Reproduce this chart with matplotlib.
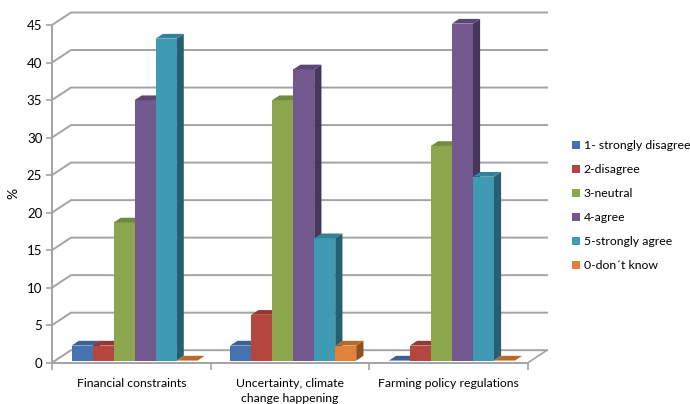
import matplotlib
matplotlib.use("Agg")
import matplotlib.pyplot as plt
from matplotlib.patches import Polygon, Patch

plt.rcParams['font.family'] = ['Lato', 'DejaVu Sans']

# ---- data -------------------------------------------------------------
categories = ["Financial constraints",
              "Uncertainty, climate\nchange happening",
              "Farming policy regulations"]
series_names = ["1- strongly disagree", "2-disagree", "3-neutral",
                "4-agree", "5-strongly agree", "0-don\u00b4t know"]
values = {
    "1- strongly disagree": [2.0, 2.0, 0.0],
    "2-disagree":           [2.0, 6.1, 2.0],
    "3-neutral":            [18.4, 34.7, 28.6],
    "4-agree":              [34.7, 38.8, 44.9],
    "5-strongly agree":     [42.9, 16.3, 24.5],
    "0-don\u00b4t know":    [0.0, 2.0, 0.0],
}
y_ticks = [0, 5, 10, 15, 20, 25, 30, 35, 40, 45]

# front / top / side shades for each series
front_col = ["#4673AF", "#B3473F", "#8BA64C", "#735890", "#3F9AB3", "#E0823A"]
top_col   = ["#3A6096", "#953832", "#728B3C", "#5C4675", "#33819A", "#B8692C"]
side_col  = ["#2C4C78", "#772C28", "#5A6E2E", "#46365C", "#266070", "#8E5020"]

# ---- figure -----------------------------------------------------------
W, H = 690, 404
fig = plt.figure(figsize=(W / 100, H / 100), dpi=100)
x0, x1, y0, y1 = 52, 528, 362.7, 25          # front plane in pixels
ax = fig.add_axes([x0 / W, (H - y0) / H, (x1 - x0) / W, (y0 - y1) / H])
ncat = len(categories)
ax.set_xlim(0, ncat)
ax.set_ylim(0, 45)

# depth of the floor expressed in data units
px_per_cat = (x1 - x0) / ncat
px_per_val = (y0 - y1) / 45
Dx = 19 / px_per_cat
Dy = 12.5 / px_per_val

grid_c = "#A3A3A3"
for v in y_ticks:
    ax.plot([0, Dx, ncat + Dx], [v, v + Dy, v + Dy], color=grid_c, lw=1.4,
            clip_on=False, zorder=1, solid_joinstyle="miter")
ax.plot([ncat, ncat + Dx], [0, Dy], color=grid_c, lw=1.2, clip_on=False, zorder=1)

# bars
nser = len(series_names)
w = 21 / px_per_cat
f0, f1 = 0.17, 0.55
bx, by = f0 * Dx, f0 * Dy
ddx, ddy = (f1 - f0) * Dx, (f1 - f0) * Dy
for ci in range(ncat):
    for si, name in enumerate(series_names):
        v = values[name][ci]
        xl = ci + (1 - nser * w) / 2 + si * w + bx
        xr = xl + w
        b = by
        side = Polygon([(xr, b), (xr + ddx, b + ddy), (xr + ddx, b + v + ddy), (xr, b + v)],
                       closed=True, fc=side_col[si], ec="none", clip_on=False, zorder=3)
        ax.add_patch(side)
        ax.bar(xl, v, width=w, bottom=b, align="edge", color=front_col[si],
               edgecolor="none", clip_on=False, zorder=3)
        top = Polygon([(xl, b + v), (xl + ddx, b + v + ddy), (xr + ddx, b + v + ddy), (xr, b + v)],
                      closed=True, fc=top_col[si], ec="none", clip_on=False, zorder=3)
        ax.add_patch(top)

# axes styling
for s in ["top", "right"]:
    ax.spines[s].set_visible(False)
for s in ["left", "bottom"]:
    ax.spines[s].set_color(grid_c)
    ax.spines[s].set_linewidth(1.4)
    ax.spines[s].set_zorder(2)
ax.set_yticks(y_ticks)
ax.tick_params(axis="y", length=4, color=grid_c, width=1.2, labelsize=9.5, pad=3)
ax.set_xticks(range(ncat + 1))
ax.set_xticklabels([])
ax.tick_params(axis="x", which="major", length=5, color=grid_c, width=1.2)
ax.set_xticks([i + 0.5 for i in range(ncat)], minor=True)
ax.set_xticklabels(categories, minor=True, fontsize=8.8, linespacing=1.5)
ax.tick_params(axis="x", which="minor", length=0, pad=11)
ax.set_ylabel("%", fontsize=10, labelpad=5)
ax.set_facecolor("none")

handles = [Patch(facecolor=front_col[i], edgecolor="none", label=series_names[i])
           for i in range(nser)]
fig.legend(handles=handles, loc="upper left", bbox_to_anchor=(572 / W, 1 - 140 / H),
           frameon=False, fontsize=8.8, handlelength=0.65, handleheight=0.65,
           handletextpad=0.3, labelspacing=1.07, borderaxespad=0, borderpad=0)

fig.savefig("out.png", dpi=100)
